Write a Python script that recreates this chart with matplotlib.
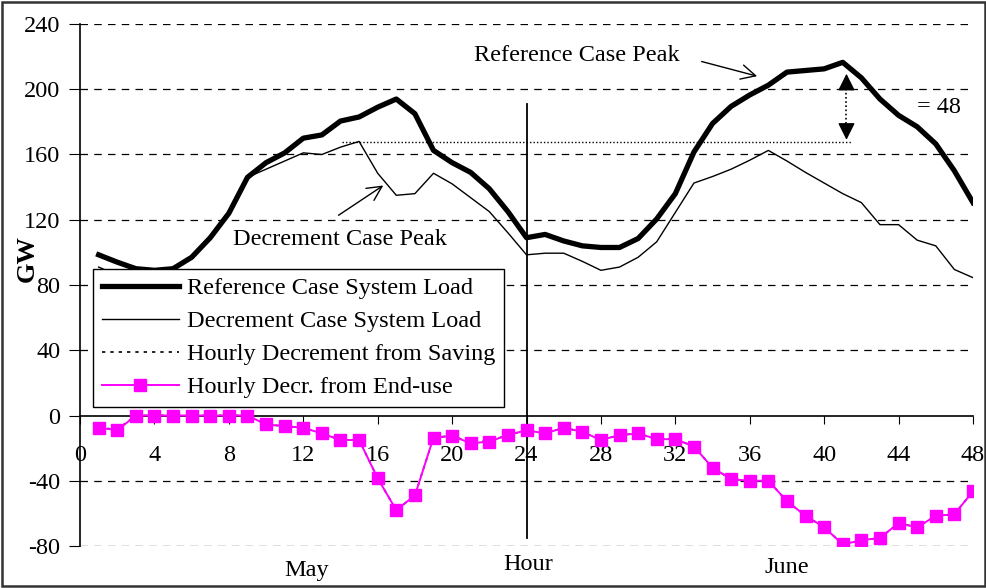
import matplotlib
matplotlib.use("Agg")
import matplotlib.pyplot as plt
from matplotlib.patches import Rectangle

plt.rcParams['font.family'] = ['Liberation Serif', 'DejaVu Serif']
plt.rcParams['axes.unicode_minus'] = False

hours = list(range(1, 49))

reference_load = [98.5, 94, 90, 89, 90, 97, 109, 124, 146, 155, 161, 170,
                  172, 180.5, 183, 189, 194, 185, 162.5, 155, 149, 139,
                  125, 109, 111, 107, 104, 103, 103, 108.5, 120.5, 136,
                  161.5, 179, 189.5, 196.5, 202.5, 210.5, 211.5, 212.5, 216.5, 207,
                  194, 184, 177, 166.5, 150, 130.5]

decrement_load = [91, 86, 90, 89, 90, 97, 109, 124, 146, 151, 156, 161,
                  160, 164.5, 168, 148.5, 135, 136, 148.5, 142, 133.5, 125,
                  112, 98.5, 99.5, 99.5, 94.5, 89, 91, 97, 106.5, 124.5,
                  142.5, 146.5, 151, 156.5, 162.5, 156, 149, 142.5, 136, 130.5,
                  117, 117, 107.5, 104, 89.5, 84.5]

saving_decr = [-7.5, -8.5, 0, 0, 0, 0, 0, 0, 0, -5.5, -6.5, -7.5,
               -11, -15, -15, -38.5, -58, -49, -13.5, -12.5, -16.5, -15.5,
               -12, -9, -11, -7.5, -10, -15, -12, -11, -14.5, -14.5,
               -19, -32, -39, -40, -40, -52.5, -61.5, -68.5, -79, -76.5,
               -75, -66, -68.5, -61.5, -60.5, -46.5]

enduse_decr = [-7.5, -9, 0, 0, 0, 0, 0, 0, 0, -5.5, -6.5, -7.5,
               -11, -15, -15, -38.5, -58, -49, -13.5, -12.5, -17, -16,
               -12, -9, -11, -7.5, -10, -15, -12, -11, -14.5, -14.5,
               -19, -32, -39, -40, -40, -52.5, -61.5, -68.5, -79, -76.5,
               -75, -66, -68.5, -61.5, -60.5, -46.5]

x_ticks = list(range(0, 49, 4))
y_ticks = [-80, -40, 0, 40, 80, 120, 160, 200, 240]

dec_peak = 167.5
ref_peak = 216.5
peak_hour = 41.2
fs = 17.5

fig = plt.figure(figsize=(9.87, 5.88), dpi=100)
ax = fig.add_axes([0.0811, 0.0714, 0.9047, 0.8878])

for y in y_ticks:
    if y != 0:
        ax.axhline(y, color='black', lw=0.9, ls=(0, (6, 5)), zorder=0)

ax.plot(hours, decrement_load, color='black', lw=1.0, zorder=3,
        label='Decrement Case System Load')
ax.plot(hours, reference_load, color='black', lw=3.8, zorder=4,
        solid_joinstyle='round', label='Reference Case System Load')
ax.plot(hours, saving_decr, color='black', lw=1.2, ls=(0, (2, 3)), zorder=3,
        label='Hourly Decrement from Saving')
ax.plot(hours, enduse_decr, color='#FF00FF', lw=1.4, marker='s', ms=8,
        zorder=5, label='Hourly Decr. from End-use')

# day divider
ax.plot([24, 24], [-75, 191], color='black', lw=1.3, zorder=2)

# peak reduction marker
ax.plot([14.1, peak_hour + 0.3], [dec_peak, dec_peak], color='black',
        lw=1.0, ls=(0, (1, 1.5)), zorder=2)
ax.plot([peak_hour, peak_hour], [dec_peak + 6, ref_peak - 10], color='black',
        lw=1.2, ls=(0, (1, 1.5)), zorder=2)
ax.annotate('', xy=(peak_hour, ref_peak - 7), xytext=(peak_hour, ref_peak - 10),
            arrowprops=dict(arrowstyle='-|>', color='black', lw=1.0,
                            mutation_scale=26, shrinkA=0, shrinkB=0))
ax.annotate('', xy=(peak_hour, dec_peak + 1.5), xytext=(peak_hour, dec_peak + 6),
            arrowprops=dict(arrowstyle='-|>', color='black', lw=1.0,
                            mutation_scale=26, shrinkA=0, shrinkB=0))
ax.text(45, 189, '= 48', fontsize=fs, va='center', ha='left')

ax.annotate('Reference Case Peak', xy=(36.4, 208), xytext=(21.2, 220.5),
            fontsize=fs, va='center', ha='left',
            arrowprops=dict(arrowstyle='->', color='black', lw=1.0,
                            mutation_scale=26, shrinkA=14, shrinkB=0,
                            relpos=(1.0, 0.5)))
ax.annotate('Decrement Case Peak', xy=(16.3, 141), xytext=(8.2, 108),
            fontsize=fs, va='center', ha='left',
            arrowprops=dict(arrowstyle='->', color='black', lw=1.0,
                            mutation_scale=26, shrinkA=14, shrinkB=0,
                            relpos=(0.4, 1.0)))

ax.set_xlim(0, 48)
ax.set_ylim(-80, 240)
ax.set_xticks(x_ticks)
ax.set_yticks(y_ticks)
ax.spines['top'].set_visible(False)
ax.spines['right'].set_visible(False)
ax.spines['bottom'].set_position(('data', 0))
ax.spines['bottom'].set_linewidth(1.2)
ax.spines['left'].set_linewidth(1.2)
ax.tick_params(axis='x', direction='out', length=6, pad=15, labelsize=fs)
ax.tick_params(axis='y', direction='out', length=8, pad=6, labelsize=fs)

ax.text(12.2, -0.046, 'May', transform=ax.get_xaxis_transform(),
        fontsize=fs, ha='center', va='center')
ax.text(24.1, -0.036, 'Hour', transform=ax.get_xaxis_transform(),
        fontsize=fs, ha='center', va='center')
ax.text(38, -0.042, 'June', transform=ax.get_xaxis_transform(),
        fontsize=fs, ha='center', va='center')
fig.text(0.028, 0.561, 'GW', rotation=90, fontsize=19, fontweight='bold',
         ha='center', va='center')

handles, labels = ax.get_legend_handles_labels()
order = [1, 0, 2, 3]
leg = ax.legend([handles[i] for i in order], [labels[i] for i in order],
                loc='upper left', bbox_to_anchor=(0.0146, 0.5307),
                fontsize=fs, frameon=True, fancybox=False, framealpha=1,
                edgecolor='black', handlelength=3.2, borderpad=0.35,
                labelspacing=0.45, handletextpad=0.3, borderaxespad=0)
leg.get_frame().set_linewidth(1.0)
leg.set_zorder(6)

fig.patches.append(Rectangle((0.002, 0.004), 0.996, 0.993, transform=fig.transFigure,
                             fill=False, edgecolor='#333333', lw=1.8))

fig.savefig('out.png', dpi=100)
